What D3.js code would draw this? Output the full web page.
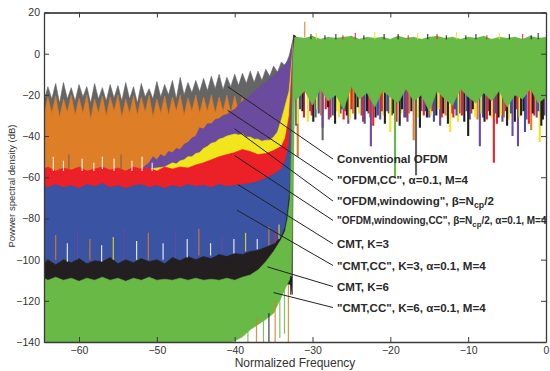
<!DOCTYPE html>
<html><head><meta charset="utf-8">
<script src="https://cdn.jsdelivr.net/npm/d3@7"></script>
<style>body{margin:0;background:#fff}svg{display:block}</style>
</head><body><svg id="c" width="550" height="371"></svg>
<script>
// ---------- data ----------
const seriesNames = ["Conventional OFDM","\"OFDM,CC\", α=0.1, M=4","\"OFDM,windowing\", β=Ncp/2","\"OFDM,windowing,CC\", β=Ncp/2, α=0.1, M=4","CMT, K=3","\"CMT,CC\", K=3, α=0.1, M=4","CMT, K=6","\"CMT,CC\", K=6, α=0.1, M=4"];
const seriesColors = ["#656565","#de7e27","#6a4b9e","#f1e51c","#ec2027","#3a53a3","#231f20","#68b945"];
const xTicks = [-60,-50,-40,-30,-20,-10,0];
const yTicks = [-140,-120,-100,-80,-60,-40,-20,0,20];

// out-of-band envelopes [frequency, dB]
const grayTop = [[-64.5,-23],[-64,-16],[-63.5,-22],[-63,-14.5],[-62.5,-24],[-62,-14],[-61.5,-22],[-61,-16.5],[-60.5,-23],[-60,-15],[-59.5,-21],[-59,-16],[-58.5,-24],[-58,-14.5],[-57.5,-22],[-57,-16.5],[-56.5,-23],[-56,-15],[-55.5,-21.5],[-55,-15.5],[-54.5,-23],[-54,-14],[-53.5,-22],[-53,-16],[-52.5,-24],[-52,-14.5],[-51.5,-21],[-51,-17],[-50.5,-22],[-50,-13.5],[-49.5,-21],[-49,-15],[-48.5,-20],[-48,-13],[-47.5,-22],[-47,-11.5],[-46.5,-20],[-46,-14],[-45.5,-19],[-45,-13],[-44.5,-18.5],[-44,-12],[-43.5,-18],[-43,-11],[-42.5,-17],[-42,-10],[-41.5,-17.5],[-41,-11.5],[-40.5,-16],[-40,-10],[-39.5,-15.5],[-39,-9.5],[-38.5,-14.5],[-38,-8.5],[-37.5,-14],[-37,-8.5],[-36.5,-13],[-36,-7.5],[-35.5,-11],[-35,-6],[-34.5,-9],[-34,-4],[-33.5,-6],[-33,-1],[-32.6,5],[-32.3,9]];
const grayBot = [[-64.5,-45],[-33,-45],[-32.4,-22]];
const orangeTop = [[-64.5,-30],[-64,-21],[-63.5,-29],[-63,-20.5],[-62.5,-31],[-62,-22],[-61.5,-28.5],[-61,-20],[-60.5,-30],[-60,-21.5],[-59.5,-29],[-59,-20],[-58.5,-32],[-58,-22],[-57.5,-29],[-57,-20.5],[-56.5,-30.5],[-56,-21],[-55.5,-28],[-55,-20],[-54.5,-31],[-54,-22],[-53.5,-29],[-53,-20.5],[-52.5,-30],[-52,-21],[-51.5,-28.5],[-51,-20],[-50.5,-31],[-50,-22],[-49.5,-29],[-49,-20.5],[-48.5,-30],[-48,-21],[-47.5,-28],[-47,-20],[-46.5,-30],[-46,-21.5],[-45.5,-28],[-45,-20],[-44.5,-29],[-44,-21],[-43.5,-28],[-43,-20],[-42.5,-29],[-42,-21],[-41.5,-28],[-41,-20],[-40.5,-29],[-40,-20.5],[-39.5,-28],[-39,-21],[-38.5,-29],[-38,-22],[-37,-24],[-36,-24],[-35,-24],[-34,-24],[-33,-20],[-32.6,5],[-32.3,9]];
const orangeBot = [[-64.5,-57],[-33,-57],[-32.4,-22]];
const purpleTop = [[-64.5,-60],[-53,-60],[-52,-56],[-51,-53],[-50.5,-50],[-50,-51.5],[-49.5,-49],[-49,-50],[-48.5,-47.5],[-48,-48],[-47.5,-46],[-47,-46.5],[-46.5,-44],[-46,-43],[-45.5,-41],[-45,-40],[-44.5,-36],[-44,-36.5],[-43.5,-34],[-43,-34],[-42.5,-32],[-42,-31.5],[-41.5,-30],[-41,-29.5],[-40.5,-28],[-40,-27],[-39.5,-25],[-39,-23],[-38.5,-22],[-38,-20],[-37.5,-18.5],[-37,-17],[-36.5,-15],[-36,-14],[-35.5,-12],[-35,-11],[-34.5,-9],[-34,-7],[-33.5,-5],[-33,-2.5],[-32.7,3],[-32.4,9]];
const purpleBot = [[-64.5,-62],[-33,-62],[-32.5,-22]];
const yellowTop = [[-64.5,-60],[-53,-60],[-52,-57],[-51,-56],[-50,-55.5],[-49,-55],[-48,-53],[-47.5,-53.5],[-47,-52],[-46.5,-51.5],[-46,-50],[-45.5,-50],[-45,-48.5],[-44.5,-48],[-44,-46],[-43.5,-45],[-43,-43.5],[-42.5,-43],[-42,-41.5],[-41.5,-41],[-41,-40],[-40.5,-39.5],[-40,-39],[-39.5,-39.5],[-39,-39],[-38.5,-40.5],[-38,-40.5],[-37.5,-41.5],[-37,-41.5],[-36.5,-42.5],[-36,-42],[-35.5,-42],[-35,-40.5],[-34.5,-38],[-34,-32],[-33.5,-25],[-33,-18],[-32.7,-5],[-32.4,9]];
const yellowBot = [[-64.5,-62],[-33,-62],[-32.5,-22]];
const redTop = [[-64.5,-56],[-64,-55],[-63,-57],[-62,-55.5],[-61,-56.5],[-60,-55],[-59,-57],[-58,-56],[-57,-55],[-56,-56.5],[-55,-55.5],[-54,-57],[-53,-55],[-52,-56],[-51,-55.5],[-50,-57],[-49,-55],[-48,-56],[-47,-55],[-46,-55.5],[-45,-54],[-44,-53],[-43,-51.5],[-42,-50],[-41,-49],[-40,-48],[-39,-46.5],[-38,-47.5],[-37,-49],[-36,-48.5],[-35,-47],[-34,-45],[-33.5,-41],[-33,-30],[-32.7,-10],[-32.4,9]];
const redBot = [[-64.5,-68],[-33,-68],[-32.5,-22]];
const blueTop = [[-64.5,-64],[-64,-65],[-63,-63.5],[-62,-65],[-61,-64],[-60,-65.5],[-59,-63.5],[-58,-64.5],[-57,-63],[-56,-65],[-55,-64],[-54,-65.5],[-53,-64],[-52,-63.5],[-51,-65],[-50,-64],[-49,-65.5],[-48,-64],[-47,-65],[-46,-63.5],[-45,-64.5],[-44,-64],[-43,-65],[-42,-63.5],[-41,-64.5],[-40,-64],[-39,-63.5],[-38,-63],[-37,-62],[-36,-60.5],[-35,-58.5],[-34,-56],[-33.5,-52],[-33,-44],[-32.7,-20],[-32.4,9]];
const blueBot = [[-64.5,-104],[-33,-104],[-32.5,-22]];
const blackTop = [[-64.5,-102],[-64,-100],[-63,-102.5],[-62,-100],[-61,-101.5],[-60,-99.5],[-59,-102],[-58,-100.5],[-57,-101],[-56,-99],[-55,-102],[-54,-100],[-53,-101.5],[-52,-99.5],[-51,-101],[-50,-100],[-49,-102],[-48,-99],[-47,-100.5],[-46,-98.5],[-45,-100],[-44,-98.5],[-43,-99.5],[-42,-97.5],[-41,-98.5],[-40,-97],[-39,-97.5],[-38,-96],[-37,-95.5],[-36,-94],[-35,-92.5],[-34,-89],[-33.5,-84],[-33.2,-77],[-32.9,-66],[-32.6,-30],[-32.4,9]];
const blackBot = [[-64.5,-112],[-32.8,-112],[-32.6,-117],[-32.45,-22]];
const greenTop = [[-64.5,-109],[-64,-110],[-63,-108.5],[-62,-110],[-61,-109],[-60,-110.5],[-59,-109],[-58,-110],[-57,-108.5],[-56,-110],[-55,-109],[-54,-110.5],[-53,-109],[-52,-110],[-51,-108.5],[-50,-110],[-49,-109.5],[-48,-110],[-47,-109],[-46,-110],[-45,-109],[-44,-110],[-43,-109.5],[-42,-110],[-41,-109],[-40,-110],[-39,-108.5],[-38,-107.5],[-37,-105],[-36,-101],[-35,-96],[-34,-90],[-33.5,-86],[-33.2,-80],[-32.9,-71],[-32.7,-40],[-32.5,0],[-32.3,8]];
const greenBot = [[-64.5,-141],[-41,-141],[-40,-139.5],[-39,-137.5],[-38,-134],[-37,-131.5],[-36,-129],[-35,-126],[-34,-118],[-33.5,-114],[-33,-110],[-32.7,-108],[-32.5,-60],[-32.3,-22]];

// in-band envelopes
const pbFreq = [-32,-31,-30,-29,-28,-27,-26,-25,-24,-23,-22,-21,-20,-19,-18,-17,-16,-15,-14,-13,-12,-11,-10,-9,-8,-7,-6,-5,-4,-3,-2,-1,0];
const pbTopGreen = [8,7.5,8.5,7,8,7.5,8,8.5,7,8,7.5,8,7,8.5,7.5,8,7,8,8.5,7.5,8,7,8,7.5,8.5,7,8,7.5,8,7,8.5,7.5,8];
const pbTopOther = [7.5,7,8,6.5,7.5,7,7.5,8,6.5,7.5,7,7.5,6.5,8,7,7.5,6.5,7.5,8,7,7.5,6.5,7.5,7,8,6.5,7.5,7,7.5,6.5,8,7,7.5];
const pbLowGreen = [-22,-18,-25,-17,-23,-20,-27,-16,-22,-19,-26,-18,-21,-24,-17,-23,-20,-28,-18,-22,-25,-17,-21,-24,-19,-23,-18,-26,-20,-22,-17,-24,-21];
const pbLowOther = [-20,-16,-23,-15,-21,-18,-25,-14,-20,-17,-24,-16,-19,-22,-15,-21,-18,-26,-16,-20,-23,-15,-19,-22,-17,-21,-16,-24,-18,-20,-15,-22,-19];

// in-band downward spikes [series, frequency, lowest dB]
const pbSpikes = [[2,-32.1,-35],[3,-31.9,-34],[1,-31.9,-50],[5,-31.6,-27],[6,-31.3,-28],[4,-31.1,-31],[3,-30.6,-33],[2,-30.3,-28],[4,-30.1,-30],[6,-29.9,-33],[0,-29.6,-31],[3,-29.4,-27],[5,-29.2,-29],[1,-28.9,-30],[2,-28.7,-36],[0,-28.7,-42],[4,-28.3,-27],[6,-28,-26],[2,-27.9,-32],[4,-27.7,-31],[5,-27.4,-30],[6,-27.1,-34],[3,-26.9,-28],[3,-26.6,-31],[2,-26.4,-29],[5,-26.2,-27],[4,-26,-32],[0,-25.8,-28],[6,-25.6,-30],[2,-25.4,-34],[3,-25.2,-32],[4,-25,-27],[1,-24.8,-29],[6,-24.5,-32],[6,-24.2,-26],[3,-24,-29],[2,-23.7,-30],[4,-23.5,-33],[5,-23.3,-34],[6,-23,-28],[4,-22.8,-29],[1,-22.6,-31],[2,-22.5,-45],[4,-22.2,-35],[3,-22,-27],[6,-21.9,-31],[5,-21.6,-30],[2,-21.3,-32],[4,-21.1,-28],[3,-20.9,-30],[6,-20.7,-34],[5,-20.4,-28],[2,-20.2,-29],[3,-20,-38],[0,-19.8,-30],[6,-19.6,-29],[4,-19.2,-33],[6,-18.8,-35],[3,-18.6,-29],[6,-18.5,-27],[5,-18.2,-31],[4,-18,-31],[2,-17.8,-33],[1,-17.6,-29],[6,-17.3,-28],[1,-17,-42],[0,-16.7,-59],[3,-16.4,-31],[6,-16.2,-36],[2,-16,-28],[4,-15.7,-30],[5,-15.5,-28],[6,-15.3,-31],[2,-15,-31],[3,-14.8,-30],[4,-14.6,-28],[5,-14.4,-33],[6,-14.1,-30],[3,-13.8,-27],[2,-13.6,-35],[4,-13.4,-31],[6,-13.2,-29],[1,-12.9,-30],[6,-12.6,-34],[3,-12.3,-38],[2,-12.1,-29],[4,-11.9,-31],[5,-11.7,-27],[5,-11.5,-30],[3,-11.3,-33],[0,-11.1,-29],[4,-10.8,-30],[6,-10.5,-33],[2,-10.2,-28],[6,-10,-40],[5,-9.8,-32],[4,-9.6,-29],[6,-9.4,-27],[3,-9.1,-31],[1,-8.8,-32],[2,-8.5,-45],[3,-8.3,-29],[5,-8.1,-31],[6,-7.9,-33],[4,-7.6,-32],[2,-7.4,-28],[6,-7.2,-30],[3,-7,-31],[4,-6.7,-53],[5,-6.5,-29],[4,-6.3,-34],[6,-6.1,-31],[3,-5.8,-30],[2,-5.6,-33],[1,-5.4,-31],[4,-5.2,-28],[6,-5,-35],[3,-4.8,-32],[5,-4.5,-29],[2,-4.3,-40],[6,-4,-33],[4,-3.8,-27],[2,-3.6,-45],[3,-3.4,-31],[6,-3.2,-30],[6,-2.9,-28],[5,-2.7,-38],[2,-2.5,-32],[4,-2.2,-34],[1,-1.9,-37],[6,-1.7,-29],[4,-1.5,-30],[2,-1.2,-31],[5,-1,-28],[3,-0.8,-43],[6,-0.6,-35],[6,-0.4,-32],[2,-0.2,-30],[7,-19.4,-60]];

// thin overlay traces [frequency, from dB, to dB, colour index (8 = white)]
const overlaySpikes = [[-63.3,-50,-57,8],[-62,-52,-57,8],[-61.3,-49,-56,0],[-59.6,-51,-57,8],[-58.1,-53,-57,8],[-57,-50,-56,8],[-55.5,-51,-57,8],[-54.6,-49,-56,0],[-53.2,-52,-57,8],[-51.9,-50,-57,8],[-50.6,-53,-57,8],
[-63,-88,-100,1],[-61.5,-92,-101,8],[-60.2,-86,-100,2],[-58.6,-90,-100,1],[-57.1,-93,-101,8],[-55.6,-89,-100,3],[-54.2,-85,-100,2],[-52.6,-91,-100,8],[-51.1,-87,-100,1],[-49.2,-92,-100,8],[-47.6,-86,-99,2],[-46.1,-90,-99,8],[-44.6,-85,-98,1],[-43.1,-92,-98,8],[-41.6,-88,-97,2],[-40.1,-90,-97,8],[-38.6,-87,-96,3],[-37.1,-90,-95,8],[-35.6,-84,-93,1],[-34.8,-86,-92,4],[-34.3,-83,-90,3],
[-37.2,-128,-140,1],[-34.8,-120,-140,1],[-33.1,-112,-140,1],[-38.3,-133,-140,7],[-36.3,-129,-140,7],[-35.6,-126,-140,6],[-34.2,-118,-138,7],[-33.6,-114,-136,7],[-32.8,-108,-117,6],
[-31,8,15.5,1],[-30.2,7,9.5,6],[-29.5,7,10,3],[-28.4,7,9,6],[-27,7,9.5,6],[-26.1,7,9,4],[-24.5,7,10,4],[-23.4,7,9,6],[-22,7,10.5,3],[-20.8,7,9.5,6],[-19,7,9.5,6],[-17.7,7,9,4],[-16.5,7,10,3],[-15.2,7,9.5,6],[-14,7,9.5,4],[-12.8,7,9,6],[-11.5,7,10.5,3],[-10.3,7,9,6],[-9,7,9.5,6],[-7.6,7,9,4],[-6,7,10,3],[-4.7,7,9.5,6],[-3,7,9.5,4],[-1.9,7,9,6],[-1,7,10,6]];

// annotation anchors [frequency, dB] of leader line starts, and label baselines in dB
const labelAnchor = [[-40.9,-16],[-40.9,-27.5],[-40,-36.5],[-40,-49.5],[-39.6,-63.5],[-39.7,-76],[-35.8,-103.5],[-35,-116]];
const labelDb = [-53.1,-63.5,-73.5,-82.9,-94.3,-104.8,-115,-125.2];

// ---------- drawing ----------
const svg = d3.select("#c");
const x = d3.scaleLinear().domain([-64.5,0]).range([44,546]);
const y = d3.scaleLinear().domain([-140,20]).range([342,12.5]);
svg.append("clipPath").attr("id","clip").append("rect")
  .attr("x",44).attr("y",12.5).attr("width",502).attr("height",329.5);
const g = svg.append("g").attr("clip-path","url(#clip)");
const line = d3.line().x(d=>x(d[0])).y(d=>y(d[1]));
const stopTops = [grayTop,orangeTop,purpleTop,yellowTop,redTop,blueTop,blackTop,greenTop];
const stopBots = [grayBot,orangeBot,purpleBot,yellowBot,redBot,blueBot,blackBot,greenBot];
const overlayColors = seriesColors.concat(["#ffffff"]);

seriesColors.forEach((c,i)=>{
  const green = i===7;
  const tp = green?pbTopGreen:pbTopOther, lp = green?pbLowGreen:pbLowOther;
  const top = stopTops[i].concat(pbFreq.map((f,k)=>[f,tp[k]]));
  const bot = stopBots[i].concat(pbFreq.map((f,k)=>[f,lp[k]]));
  g.append("path").attr("d", line(top.concat(bot.slice().reverse()))+"Z")
    .attr("fill",c).attr("stroke",c).attr("stroke-width",0.6);
  g.selectAll(null).data(pbSpikes.filter(s=>s[0]===i)).enter().append("line")
    .attr("x1",d=>x(d[1])).attr("x2",d=>x(d[1]))
    .attr("y1",y(-14)).attr("y2",d=>y(d[2]))
    .attr("stroke",c).attr("stroke-width",2.1);
});
g.selectAll(null).data(overlaySpikes).enter().append("line")
  .attr("x1",d=>x(d[0])).attr("x2",d=>x(d[0]))
  .attr("y1",d=>y(d[1])).attr("y2",d=>y(d[2]))
  .attr("stroke",d=>overlayColors[d[3]]).attr("stroke-width",1.2).attr("opacity",0.85);

// axes
const axG = svg.append("g");
const bx = axG.append("g").attr("transform","translate(0,342)")
  .call(d3.axisBottom(x).tickValues(xTicks).tickSizeInner(-5).tickSizeOuter(0).tickPadding(5));
const tx = axG.append("g").attr("transform","translate(0,12.5)")
  .call(d3.axisTop(x).tickValues(xTicks).tickSizeInner(-5).tickSizeOuter(0).tickFormat(""));
const ly = axG.append("g").attr("transform","translate(44,0)")
  .call(d3.axisLeft(y).tickValues(yTicks).tickSizeInner(-5).tickSizeOuter(0).tickPadding(4));
const ry = axG.append("g").attr("transform","translate(546,0)")
  .call(d3.axisRight(y).tickValues(yTicks).tickSizeInner(-5).tickSizeOuter(0).tickFormat(""));
[bx,tx,ly,ry].forEach(a=>{
  a.selectAll("path").attr("stroke","#3a3a3a").attr("stroke-width",1.3);
  a.selectAll("line").attr("stroke","#3a3a3a");
  a.selectAll("text").attr("font-size",10.5).attr("fill","#333").attr("font-family","Liberation Sans, Arial, sans-serif");
});
tx.select("path").attr("stroke-width",2).attr("stroke","#555");

svg.append("text").attr("x",295).attr("y",367).attr("text-anchor","middle")
  .attr("font-family","Liberation Sans, Arial, sans-serif").attr("font-size",12).attr("fill","#333")
  .text("Normalized Frequency");
svg.append("text").attr("transform","translate(15,186) rotate(-90)").attr("text-anchor","middle")
  .attr("font-family","Liberation Sans, Arial, sans-serif").attr("font-size",9.5).attr("fill","#333")
  .text("Powwer spectral density (dB)");

// annotations
const lx = 337;
labelAnchor.forEach((a,i)=>{
  const ty = y(labelDb[i]);
  g.append("line").attr("x1",x(a[0])).attr("y1",y(a[1])).attr("x2",lx-4).attr("y2",ty-4)
    .attr("stroke","#222").attr("stroke-width",1);
});
const lab = svg.append("g").attr("font-family","Liberation Sans, Arial, sans-serif")
  .attr("font-weight","bold").attr("fill","#2a2a2a");
labelDb.forEach((d,i)=>{
  const t = lab.append("text").attr("x",lx).attr("y",y(d)).attr("font-size", i===3?10:11.6);
  const name = seriesNames[i];
  if (name.includes("Ncp")) {
    const parts = name.split("Ncp");
    t.append("tspan").text(parts[0]+"N");
    t.append("tspan").attr("dy",3).attr("font-size", i===3?7.8:8.8).text("cp");
    t.append("tspan").attr("dy",-3).text(parts[1]);
  } else t.text(name);
});
</script></body></html>
